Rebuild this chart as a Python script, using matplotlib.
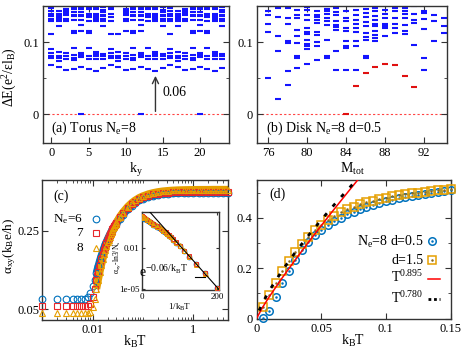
import matplotlib
matplotlib.use('Agg')
import matplotlib.pyplot as plt
from matplotlib.ticker import NullLocator, LogLocator, NullFormatter, FixedLocator

plt.rcParams['font.family'] = ['Liberation Serif', 'DejaVu Serif']
plt.rcParams['mathtext.fontset'] = 'custom'
plt.rcParams['mathtext.rm'] = 'Liberation Serif'
plt.rcParams['mathtext.it'] = 'Liberation Serif:italic'
plt.rcParams['mathtext.default'] = 'regular'

# ---------------- (a) torus spectrum ----------------
torus_ky = list(range(24))
torus_levels = [
    [0.0675, 0.078, 0.081, 0.085, 0.091, 0.111, 0.1295, 0.132, 0.1355, 0.139, 0.143, 0.147],
    [0.065, 0.074, 0.078, 0.0805, 0.086, 0.1217, 0.129, 0.131, 0.1335, 0.136, 0.139, 0.1425],
    [0.0615, 0.0765, 0.0805, 0.0845, 0.1295, 0.132, 0.138, 0.1405, 0.1435, 0.1465, 0.1495],
    [0.063, 0.0755, 0.0785, 0.0815, 0.0915, 0.1125, 0.116, 0.130, 0.1355, 0.138, 0.141, 0.1465, 0.149],
    [0.0, 0.0655, 0.0795, 0.082, 0.0855, 0.116, 0.124, 0.131, 0.1355, 0.138, 0.1415, 0.1465, 0.149],
    [0.063, 0.0765, 0.080, 0.0915, 0.113, 0.116, 0.1295, 0.1345, 0.137, 0.1395, 0.1465, 0.149],
    [0.060, 0.0765, 0.0805, 0.0835, 0.086, 0.1295, 0.132, 0.1345, 0.137, 0.1395, 0.1465, 0.149],
    [0.064, 0.0765, 0.0805, 0.084, 0.1217, 0.1295, 0.1325, 0.1355, 0.138, 0.1415, 0.1445, 0.1485],
    [0.0675, 0.078, 0.081, 0.085, 0.091, 0.111, 0.1295, 0.1345, 0.139, 0.1465, 0.149],
    [0.065, 0.074, 0.078, 0.0805, 0.086, 0.111],
    [0.0615, 0.0765, 0.0805, 0.0845, 0.116, 0.1295, 0.132, 0.138, 0.1405, 0.1435, 0.1465, 0.1495],
    [0.063, 0.0755, 0.0785, 0.0815, 0.0915, 0.1125, 0.116, 0.130, 0.1355, 0.138, 0.141, 0.1465, 0.149],
    [0.0, 0.0655, 0.0795, 0.082, 0.0855, 0.116, 0.124, 0.131, 0.1355, 0.138, 0.1415, 0.1465, 0.149],
    [0.063, 0.0765, 0.080, 0.0915, 0.1295, 0.1345, 0.137, 0.1395, 0.1465, 0.149],
    [0.060, 0.0765, 0.0805, 0.0835, 0.086, 0.1295, 0.132, 0.1345, 0.137, 0.1395, 0.1465, 0.149],
    [0.064, 0.0765, 0.0805, 0.084, 0.1217, 0.1295, 0.1325, 0.1355, 0.138, 0.1415, 0.1445, 0.1485],
    [0.0675, 0.078, 0.081, 0.085, 0.091, 0.111, 0.1295, 0.132, 0.1355, 0.139, 0.143, 0.147],
    [0.065, 0.074, 0.078, 0.0805, 0.086, 0.1217, 0.129, 0.131, 0.1335, 0.136, 0.139, 0.1425],
    [0.0615, 0.0765, 0.0805, 0.0845, 0.1295, 0.132, 0.138, 0.1405, 0.1435, 0.1465, 0.1495],
    [0.063, 0.0755, 0.0785, 0.0815, 0.0915, 0.1125, 0.116, 0.130, 0.1355, 0.138, 0.141, 0.1465, 0.149],
    [0.0, 0.0655, 0.0795, 0.082, 0.0855, 0.116, 0.124, 0.131, 0.1355, 0.138, 0.1415, 0.1465, 0.149],
    [0.063, 0.0765, 0.080, 0.0915, 0.113, 0.116, 0.1295, 0.1345, 0.137, 0.1395, 0.1465, 0.149],
    [0.060, 0.0765, 0.0805, 0.0835, 0.086, 0.1295, 0.132, 0.1345, 0.137, 0.1395, 0.1465, 0.149],
    [0.064, 0.0765, 0.0805, 0.084, 0.1217, 0.1295, 0.1325, 0.1355, 0.138, 0.1415, 0.1445, 0.1485],
]
gap_ky = 14
gap_value = 0.06

# ---------------- (b) disk spectrum ----------------
disk_M = list(range(76, 95))
disk_levels = [
    [0.1495, 0.1426, 0.1379, 0.1254, 0.1134, 0.0495],
    [0.1472, 0.1347, 0.1079, 0.0870, 0.0213],
    [0.1495, 0.1472, 0.1333, 0.1254, 0.1009, 0.0986, 0.0592, 0.0402],
    [0.1449, 0.1379, 0.1333, 0.1171, 0.1088, 0.0986, 0.0810, 0.0778, 0.0639],
    [0.1485, 0.1449, 0.1379, 0.1310, 0.1194, 0.1134, 0.1116, 0.1023, 0.0977, 0.0940, 0.0903, 0.0699],
    [0.1426, 0.1379, 0.1347, 0.1310, 0.1264, 0.1134, 0.1102, 0.0995, 0.0940, 0.0754],
    [0.1495, 0.1458, 0.1426, 0.1393, 0.1333, 0.1287, 0.1240, 0.1023, 0.0810, 0.0778],
    [0.1495, 0.1472, 0.1412, 0.1379, 0.1287, 0.1240, 0.1208, 0.1171, 0.0870, 0.0606],
    [0.1426, 0.1333, 0.1287, 0.1194, 0.1148, 0.1009, 0.0940, 0.0917, 0.0606],
    [0.1449, 0.1379, 0.1301, 0.1254, 0.1194, 0.1134, 0.1009, 0.0949, 0.0615],
    [0.1458, 0.1402, 0.1347, 0.1273, 0.1217, 0.1125, 0.1069, 0.1032, 0.0801, 0.0778],
    [0.1495, 0.1472, 0.1426, 0.1356, 0.1310, 0.1254, 0.1217, 0.1148, 0.1102, 0.1055, 0.1009],
    [0.1449, 0.1393, 0.1333, 0.1254, 0.1227, 0.1194, 0.1079],
    [0.1472, 0.1426, 0.1333, 0.1254, 0.1194, 0.1125],
    [0.1472, 0.1426, 0.1393, 0.1333, 0.1240, 0.1148, 0.1116],
    [0.1495, 0.1393, 0.1310, 0.1264, 0.0963],
    [0.1426, 0.1402, 0.1319, 0.1180, 0.0778, 0.0606],
    [0.1379, 0.1287, 0.1009],
    [0.1333, 0.1227, 0.1125],
]
edge_M = [84, 85, 86, 87, 88, 89, 90, 91]
edge_E = [0.0, 0.039, 0.057, 0.065, 0.069, 0.068, 0.053, 0.037]

# ---------------- (c) alpha_xy vs T ----------------
T_c = [0.001, 0.002, 0.003, 0.004, 0.005, 0.006, 0.007, 0.008, 0.009, 0.010,
       0.011, 0.012, 0.013, 0.014, 0.015, 0.016, 0.017, 0.018, 0.019, 0.020,
       0.021, 0.022, 0.023, 0.024, 0.025, 0.026, 0.027, 0.028, 0.029, 0.030,
       0.035, 0.04, 0.05, 0.06, 0.07, 0.085, 0.1, 0.13, 0.16, 0.2,
       0.25, 0.32, 0.4, 0.5, 0.65, 0.8, 1.0, 1.3, 1.6, 2.0,
       2.5, 3.2, 4.0, 5.0]
alpha_Ne6 = [0.0615, 0.0615, 0.0615, 0.0615, 0.0615, 0.0615, 0.0615, 0.064, 0.070, 0.080,
             0.092, 0.106, 0.121, 0.136, 0.150, 0.164, 0.177, 0.189, 0.200, 0.211,
             0.221, 0.231, 0.240, 0.249, 0.257, 0.265, 0.272, 0.279, 0.286, 0.292,
             0.322, 0.348, 0.389, 0.420, 0.443, 0.468, 0.484, 0.504, 0.516, 0.525,
             0.532, 0.537, 0.540, 0.542, 0.544, 0.545, 0.545, 0.546, 0.546, 0.546,
             0.546, 0.546, 0.546, 0.546]
alpha_Ne7 = [0.053, 0.053, 0.053, 0.053, 0.053, 0.053, 0.053, 0.053, 0.056, 0.064,
             0.076, 0.091, 0.107, 0.123, 0.139, 0.154, 0.168, 0.181, 0.194, 0.206,
             0.217, 0.228, 0.238, 0.248, 0.257, 0.266, 0.274, 0.282, 0.289, 0.296,
             0.329, 0.357, 0.400, 0.432, 0.455, 0.480, 0.496, 0.516, 0.528, 0.537,
             0.544, 0.549, 0.552, 0.554, 0.556, 0.557, 0.557, 0.558, 0.558, 0.558,
             0.558, 0.558, 0.558, 0.558]
alpha_Ne8 = [0.046, 0.046, 0.046, 0.046, 0.046, 0.046, 0.046, 0.046, 0.047, 0.052,
             0.062, 0.076, 0.092, 0.108, 0.124, 0.140, 0.155, 0.170, 0.184, 0.197,
             0.209, 0.221, 0.232, 0.243, 0.253, 0.263, 0.272, 0.281, 0.289, 0.297,
             0.334, 0.364, 0.410, 0.443, 0.467, 0.493, 0.510, 0.532, 0.545, 0.556,
             0.564, 0.570, 0.574, 0.577, 0.579, 0.580, 0.581, 0.582, 0.582, 0.582,
             0.583, 0.583, 0.583, 0.583]

# inset: alpha_xy - ln3/Ns vs 1/kBT
inset_invT = [0.25, 1, 3, 6, 12, 20, 30, 40, 50, 55.6, 62.5, 66.7, 71.4, 76.9, 83.3,
              90.9, 100, 111.1, 125, 142.9, 166.7, 200]
inset_Ne6 = [1.62, 1.53, 1.40, 1.22, 0.92, 0.65, 0.43, 0.30, 0.20, 0.15, 0.112, 0.093, 0.073,
             0.055, 0.037, 0.023, 0.013, 0.0057, 0.0021, 6.2e-4, 1.4e-4, 1.2e-5]
inset_Ne7 = [1.75, 1.66, 1.52, 1.33, 1.00, 0.71, 0.47, 0.33, 0.22, 0.165, 0.122, 0.100, 0.079,
             0.059, 0.040, 0.025, 0.014, 0.0061, 0.0023, 6.6e-4, 1.45e-4, 1.25e-5]
inset_Ne8 = [1.90, 1.80, 1.65, 1.45, 1.10, 0.78, 0.52, 0.36, 0.24, 0.18, 0.130, 0.108, 0.085,
             0.063, 0.043, 0.027, 0.015, 0.0065, 0.0024, 7.0e-4, 1.5e-4, 1.3e-5]
exp_line_x = [0, 206]
exp_line_y = [15.4, 9.0e-6]

# ---------------- (d) alpha_xy vs T, disk ----------------
T_d = [0.005, 0.01, 0.015, 0.02, 0.025, 0.03, 0.035, 0.04, 0.045, 0.05,
       0.055, 0.06, 0.065, 0.07, 0.075, 0.08, 0.085, 0.09, 0.095, 0.1,
       0.105, 0.11, 0.115, 0.12, 0.125, 0.13, 0.135, 0.14, 0.145, 0.15]
alpha_d05 = [0.003, 0.030, 0.086, 0.139, 0.190, 0.232, 0.271, 0.303, 0.331, 0.352,
             0.371, 0.387, 0.401, 0.413, 0.424, 0.434, 0.443, 0.451, 0.458, 0.465,
             0.471, 0.477, 0.482, 0.487, 0.491, 0.496, 0.500, 0.504, 0.507, 0.511]
alpha_d15 = [0.045, 0.093, 0.140, 0.188, 0.230, 0.266, 0.297, 0.325, 0.351, 0.373,
             0.391, 0.407, 0.421, 0.433, 0.444, 0.453, 0.461, 0.468, 0.474, 0.480,
             0.485, 0.489, 0.493, 0.497, 0.500, 0.503, 0.506, 0.509, 0.511, 0.514]
fit1_T = [0.0, 0.005, 0.01, 0.02, 0.03, 0.04, 0.05, 0.06, 0.07, 0.08]
fit1_y = [0.0, 0.0469, 0.0873, 0.1623, 0.2331, 0.3017, 0.3684, 0.4338, 0.4979, 0.561]
fit2_T = [0.002, 0.005, 0.01, 0.02, 0.03, 0.04, 0.05, 0.06, 0.07, 0.08]
fit2_y = [0.0318, 0.0649, 0.1115, 0.1916, 0.2628, 0.3288, 0.3913, 0.4513, 0.509, 0.5647]

BLUE = '#0072bd'
RED = '#e8262b'
ORANGE = '#e69f00'
LEVEL = '#1414ff'
FRAME = '#333333'

W, H = 463, 354
fig = plt.figure(figsize=(W / 100, H / 100), dpi=100)


def box(l, t, r, b):
    return [l / W, 1 - b / H, (r - l) / W, (b - t) / H]


def style(ax, size=9):
    for s in ax.spines.values():
        s.set_linewidth(1.0)
        s.set_color(FRAME)
    ax.tick_params(which='both', direction='in', top=True, right=True,
                   color=FRAME, labelsize=size, pad=3)
    ax.tick_params(which='major', length=4, width=0.8)
    ax.tick_params(which='minor', length=2, width=0.6)


axa = fig.add_axes(box(43.3, 6, 229, 143))
axb = fig.add_axes(box(257, 6, 447, 143))
axc = fig.add_axes(box(42.3, 180, 228, 319.5))
axd = fig.add_axes(box(256.5, 180, 450.5, 318.5))
axi = fig.add_axes(box(142, 212, 219.5, 290))

# ---- (a)
style(axa)
axa.axhline(0, color='#ff4444', lw=0.8, ls=(0, (2, 2)), zorder=1)
for ky, levels in zip(torus_ky, torus_levels):
    axa.plot([ky] * len(levels), levels, ls='none', marker='_', ms=4.2, mew=1.5,
             color=LEVEL, zorder=2)
axa.annotate('', xy=(gap_ky, gap_value - 0.003), xytext=(gap_ky, 0.0),
             arrowprops=dict(arrowstyle='->,head_width=0.22,head_length=0.45',
                             color=FRAME, lw=1.0), zorder=3)
axa.text(gap_ky + 1.0, gap_value / 2, '0.06', fontsize=10, va='center', ha='left')
axa.set_xlim(-1.1, 23.9)
axa.set_ylim(-0.04, 0.15)
axa.set_xticks([0, 5, 10, 15, 20])
axa.set_yticks([0, 0.1])
axa.set_yticklabels(['0', '0.1'])
axa.yaxis.set_minor_locator(FixedLocator([0.05]))
axa.set_xlabel('k$_y$', fontsize=10)
axa.xaxis.set_label_coords(0.5, -0.13)
axa.set_ylabel('ΔE(e$^2$/εl$_B$)', fontsize=10)
axa.yaxis.set_label_coords(-0.13, 0.48)
axa.text(0.041, 0.107, '(a) Torus N$_e$=8', transform=axa.transAxes, fontsize=10,
         va='center', ha='left')

# ---- (b)
style(axb)
axb.axhline(0, color='#ff4444', lw=0.8, ls=(0, (2, 2)), zorder=1)
for M, levels in zip(disk_M, disk_levels):
    axb.plot([M] * len(levels), levels, ls='none', marker='_', ms=4.4, mew=1.5,
             color=LEVEL, zorder=2)
axb.plot(edge_M, edge_E, ls='none', marker='_', ms=4.4, mew=1.5, color='#e01010', zorder=3)
axb.set_xlim(74.85, 94.35)
axb.set_ylim(-0.04, 0.15)
axb.set_xticks([76, 80, 84, 88, 92])
axb.set_yticks([0, 0.1])
axb.set_yticklabels(['0', '0.1'])
axb.yaxis.set_minor_locator(FixedLocator([0.05]))
axb.set_xlabel('M$_{tot}$', fontsize=10)
axb.xaxis.set_label_coords(0.5, -0.13)
axb.text(0.046, 0.107, '(b) Disk N$_e$=8 d=0.5', transform=axb.transAxes, fontsize=10,
         va='center', ha='left')

# ---- (c)
style(axc)
axc.set_xscale('log')
axc.set_yscale('log')
band_start = 11
series_c = [(alpha_Ne6, BLUE, 'o', 4.8), (alpha_Ne7, RED, 's', 4.4), (alpha_Ne8, ORANGE, '^', 5.0)]
for vals, col, mk, ms in series_c:
    axc.plot(T_c[band_start:], vals[band_start:], color=col, lw=5.4, solid_capstyle='butt',
             zorder=2)
    axc.plot(T_c, vals, ls='none', marker=mk, mfc='none', mec=col, ms=ms, mew=0.8,
             clip_on=False, zorder=3)
axc.set_xlim(0.001, 5)
axc.set_ylim(0.0405, 0.71)
axc.xaxis.set_major_locator(FixedLocator([0.01, 1]))
axc.set_xticklabels(['0.01', '1'])
axc.xaxis.set_minor_locator(LogLocator(base=10, subs=[1, 2, 3, 4, 5, 6, 7, 8, 9], numticks=20))
axc.xaxis.set_minor_formatter(NullFormatter())
axc.yaxis.set_major_locator(FixedLocator([0.05, 0.25]))
axc.set_yticklabels(['0.05', '0.25'])
axc.yaxis.set_minor_locator(NullLocator())
axc.tick_params(axis='y', which='major', pad=2)
axc.set_xlabel('k$_B$T', fontsize=10)
axc.xaxis.set_label_coords(0.5, -0.105)
axc.set_ylabel('α$_{xy}$(k$_B$e/h)', fontsize=9.5)
axc.yaxis.set_label_coords(-0.13, 0.53)
axc.text(0.058, 0.885, '(c)', transform=axc.transAxes, fontsize=10, va='center', ha='left')
legend_c = ['N$_e$=6', '7', '8']
legend_c_y = [0.718, 0.622, 0.515]
for lab, y, (vals, col, mk, ms) in zip(legend_c, legend_c_y, series_c):
    axc.text(0.218, y, lab, transform=axc.transAxes, fontsize=9.5, ha='right', va='center')
    axc.plot([0.289], [y], transform=axc.transAxes, ls='none', marker=mk, mfc='none',
             mec=col, ms=ms, mew=0.8, clip_on=False)

# ---- inset
style(axi, size=6.5)
axi.tick_params(pad=2)
axi.tick_params(which='major', length=2.5)
axi.set_yscale('log')
ins_band = 11
for vals, col, mk, ms in [(inset_Ne6, BLUE, 'o', 3.4), (inset_Ne7, RED, 's', 3.2),
                          (inset_Ne8, ORANGE, '^', 3.6)]:
    axi.plot(inset_invT[:ins_band], vals[:ins_band], color=col, lw=3.6,
             solid_capstyle='butt', zorder=2)
    axi.plot(inset_invT, vals, ls='none', marker=mk, mfc='none', mec=col, ms=ms, mew=0.7,
             zorder=3)
axi.plot(exp_line_x, exp_line_y, color='black', lw=0.8, zorder=4)
axi.set_xlim(0, 206)
axi.set_ylim(9e-6, 3.6)
axi.set_xticks([0, 200])
axi.yaxis.set_major_locator(FixedLocator([1e-5, 1e-2]))
axi.set_yticklabels(['1e-05', '0.01'])
axi.yaxis.set_minor_locator(NullLocator())
axi.set_xlabel('1/k$_B$T', fontsize=6.5)
axi.xaxis.set_label_coords(0.48, -0.15)
axi.set_ylabel('α$_{xy}$-ln3/N$_s$', fontsize=5.5)
axi.yaxis.set_label_coords(-0.25, 0.42)
axi.text(0.594, 0.23, 'e$^{-0.06/k_BT}$', transform=axi.transAxes, fontsize=10,
         ha='right', va='center')
axi.plot([0.684, 0.813], [0.17, 0.17], transform=axi.transAxes, color='black', lw=0.8)

# ---- (d)
style(axd)
axd.plot(T_d, alpha_d05, ls='none', marker='o', mfc='none', mec=BLUE, ms=5.4, mew=1.1,
         clip_on=False, zorder=3)
axd.plot(T_d, alpha_d05, ls='none', marker='.', ms=1.6, color=BLUE, clip_on=False, zorder=3)
axd.plot(T_d, alpha_d15, ls='none', marker='s', mfc='none', mec=ORANGE, ms=5.4, mew=1.1,
         clip_on=False, zorder=3)
axd.plot(T_d, alpha_d15, ls='none', marker='.', ms=1.6, color='#8a6a20', clip_on=False, zorder=3)
axd.plot(fit1_T, fit1_y, color='#ff0000', lw=1.1, zorder=4)
axd.plot(fit2_T, fit2_y, color='black', lw=2.0, ls=(0, (1.4, 3.2)), zorder=5)
axd.set_xlim(0, 0.15)
axd.set_ylim(0, 0.55)
axd.set_xticks([0, 0.05, 0.1, 0.15])
axd.set_xticklabels(['0', '0.05', '0.1', '0.15'])
axd.set_yticks([0, 0.2, 0.4])
axd.set_yticklabels(['0', '0.2', '0.4'])
axd.yaxis.set_minor_locator(FixedLocator([0.1, 0.3, 0.5]))
axd.set_xlabel('k$_B$T', fontsize=10)
axd.xaxis.set_label_coords(0.5, -0.105)
axd.text(0.064, 0.899, '(d)', transform=axd.transAxes, fontsize=10, va='center', ha='left')
legend_d = ['N$_e$=8 d=0.5', 'd=1.5', 'T$^{0.895}$', 'T$^{0.780}$']
legend_d_y = [0.556, 0.422, 0.30, 0.15]
for lab, y in zip(legend_d, legend_d_y):
    axd.text(0.861, y, lab, transform=axd.transAxes, fontsize=10, ha='right', va='center')
axd.plot([0.907], [legend_d_y[0]], transform=axd.transAxes, marker='o', mfc='none', mec=BLUE,
         ms=5.4, mew=1.1, ls='none')
axd.plot([0.907], [legend_d_y[0]], transform=axd.transAxes, marker='.', ms=1.6, color=BLUE,
         ls='none')
axd.plot([0.907], [legend_d_y[1]], transform=axd.transAxes, marker='s', mfc='none', mec=ORANGE,
         ms=5.4, mew=1.1, ls='none')
axd.plot([0.907], [legend_d_y[1]], transform=axd.transAxes, marker='.', ms=1.6, color='#8a6a20',
         ls='none')
axd.plot([0.882, 0.948], [0.285, 0.285], transform=axd.transAxes, color='#ff0000', lw=1.1)
axd.plot([0.882, 0.948], [0.14, 0.14], transform=axd.transAxes, color='black', lw=2.0,
         ls=(0, (1.0, 1.0)))

fig.savefig('out.png', dpi=100)
